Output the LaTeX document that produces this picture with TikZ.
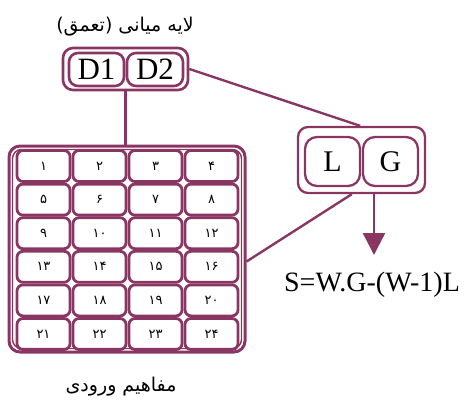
\documentclass[tikz,border=0pt]{standalone}
\usepackage{fontspec}
\setmainfont{Liberation Serif}
\newfontfamily\arabicfont[Script=Arabic]{DejaVu Sans}
\newfontfamily\digitfont{DejaVu Sans}
\TeXXeTstate=1
\usetikzlibrary{arrows.meta,calc}
\definecolor{maroon}{RGB}{138,54,98}
\tikzset{
  outerbox/.style={draw=maroon, line width=2.6pt, rounded corners=10pt, inner sep=0pt},
  innerbox/.style={draw=maroon, line width=2.6pt, rounded corners=9pt, inner sep=0pt, font=\fontsize{31}{34}\selectfont},
  cellbox/.style={draw=maroon, line width=2.8pt, rounded corners=6pt, inner sep=0pt,
    minimum width=53pt, minimum height=31pt, font=\digitfont\fontsize{13}{14}\selectfont},
  conn/.style={draw=maroon, line width=2.4pt},
  label/.style={inner sep=0pt}
}
\begin{document}
\begin{tikzpicture}[x=1pt,y=-1pt]
\useasboundingbox (0,0) rectangle (465,399);
% title
\node[label, font=\arabicfont\fontsize{19}{22}\selectfont] (title) at (125,27) {\beginR لایه میانی (تعمق)\endR};
% D box
\node[outerbox, minimum width=125pt, minimum height=42pt] (dbox) at (125.5,69) {};
\node[innerbox, minimum width=55pt, minimum height=33pt] (d1) at (96.5,69.5) {D1};
\node[innerbox, minimum width=56pt, minimum height=33pt] (d2) at (155,69.5) {D2};
% LG box
\node[outerbox, line width=2.3pt, minimum width=127pt, minimum height=66pt] (lg) at (361.5,160) {};
\node[innerbox, line width=2.3pt, rounded corners=12pt, minimum width=55pt, minimum height=49pt, font=\fontsize{30}{33}\selectfont] (l) at (332.5,161.5) {L};
\node[innerbox, line width=2.3pt, rounded corners=12pt, minimum width=55pt, minimum height=49pt, font=\fontsize{30}{33}\selectfont] (g) at (390.5,161.5) {G};
% grid
\node[outerbox, line width=3pt, rounded corners=11pt, minimum width=236pt, minimum height=206pt] (grid) at (127,249) {};
\node[outerbox, line width=1.4pt, rounded corners=9pt, minimum width=229pt, minimum height=199pt] (gridin) at (127,249) {};
\foreach \r/\a/\b/\c/\d [count=\i from 0] in {0/۱/۲/۳/۴, 1/۵/۶/۷/۸, 2/۹/۱۰/۱۱/۱۲, 3/۱۳/۱۴/۱۵/۱۶, 4/۱۷/۱۸/۱۹/۲۰, 5/۲۱/۲۲/۲۳/۲۴}{
  \node[cellbox] (c\r a) at (43.5, 166+33.6*\r) {\a};
  \node[cellbox] (c\r b) at (99.5, 166+33.6*\r) {\b};
  \node[cellbox] (c\r c) at (155.5, 166+33.6*\r) {\c};
  \node[cellbox] (c\r d) at (211.5, 166+33.6*\r) {\d};
}
% bottom label
\node[label, font=\arabicfont\fontsize{19}{22}\selectfont] (inputs) at (121,387) {\beginR مفاهیم ورودی\endR};
% formula
\node[label, font=\fontsize{28}{32}\selectfont] (formula) at (372,285) {S=W.G-(W-1)L};
% connectors
\coordinate (tip) at (374,255);
\draw[conn] (dbox.south) -- (dbox.south |- grid.north);
\draw[conn] (dbox.east) -- ($(lg.north west)!0.49!(lg.north east)$);
\draw[conn] ($(lg.south west)!0.425!(lg.south east)$) -- ($(grid.north east)!0.56!(grid.south east)$);
\draw[conn, -{Triangle[width=22pt,length=22pt]}, fill=maroon] (lg.south -| tip) -- (tip);
\end{tikzpicture}
\end{document}
